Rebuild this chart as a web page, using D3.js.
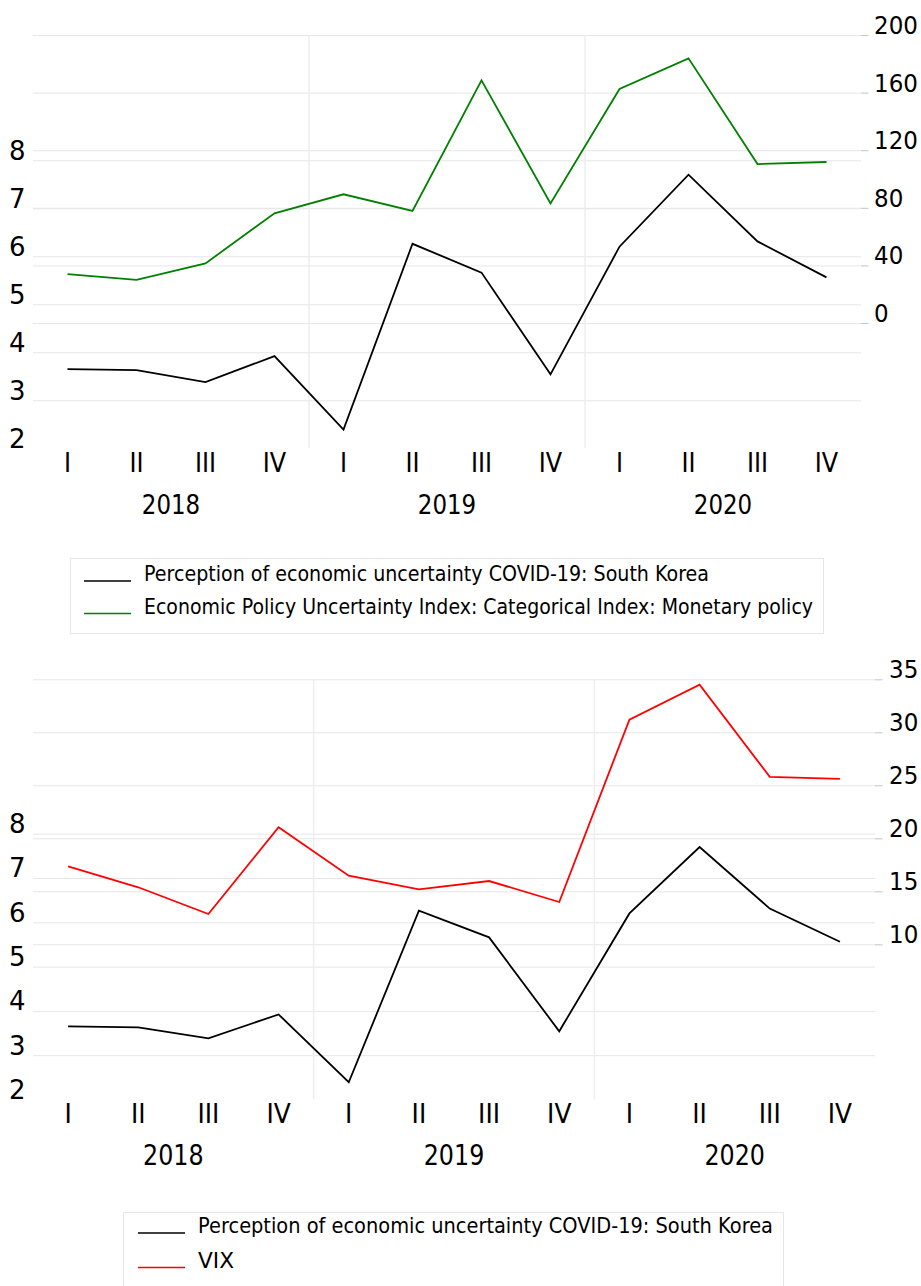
<!DOCTYPE html>
<html>
<head>
<meta charset="utf-8">
<title>Perception of economic uncertainty: South Korea</title>
<script src="https://cdn.jsdelivr.net/npm/d3@7"></script>
<style>
body { margin: 0; background: #fff; }
svg { display: block; }
text { fill: #000; font-family: "DejaVu Sans", sans-serif; }
.grid line { stroke: #e6e6e6; stroke-width: 1; }
.grid path, .axis path { display: none; }
.axis line { stroke: #c4c4c4; stroke-width: 1; }
.sep { stroke: #eeeeee; stroke-width: 1.5; }
.series { fill: none; stroke-width: 1.8; }
.legend-box { fill: #fff; stroke: #e6e6e6; stroke-width: 1; }
</style>
</head>
<body>
<script>
// data
var years = ["2018", "2019", "2020"];
var quarterNames = ["I", "II", "III", "IV"];
var perception = [3.65, 3.63, 3.38, 3.92, 2.39, 6.26, 5.66, 3.54, 6.20, 7.70, 6.31, 5.56];
var epuMonetary = [34.0, 29.9, 41.4, 76.2, 89.4, 77.8, 168.5, 83.1, 162.5, 183.8, 110.4, 111.8];
var vix = [17.36, 15.38, 12.86, 21.04, 16.47, 15.19, 15.97, 13.99, 31.2, 34.5, 25.8, 25.6];
var leftTicks = [2, 3, 4, 5, 6, 7, 8];
var epuTicks = [0, 40, 80, 120, 160, 200];
var vixTicks = [10, 15, 20, 25, 30, 35];
var perceptionLabel = "Perception of economic uncertainty COVID-19: South Korea";
var epuLabel = "Economic Policy Uncertainty Index: Categorical Index: Monetary policy";
var vixLabel = "VIX";

// one key per quarter, e.g. "2018 I"
var periods = [];
years.forEach(function(y) {
    quarterNames.forEach(function(q) { periods.push(y + " " + q); });
});

var svg = d3.select("body").append("svg")
    .attr("width", 921)
    .attr("height", 1286);

function drawPanel(p) {
    var w = p.right - p.left;
    var x = d3.scaleBand().domain(periods).range([p.left, p.right]);
    var xYear = d3.scaleBand().domain(years).range([p.left, p.right]);
    var yL = d3.scaleLinear().domain(p.leftDomain).range([p.bottom, p.top]);
    var yR = d3.scaleLinear().domain(p.rightDomain).range([p.bottom, p.top]);

    // left grid and labels
    var gl = svg.append("g")
        .attr("class", "grid")
        .attr("transform", "translate(" + p.left + ",0)")
        .call(d3.axisLeft(yL).tickValues(leftTicks).tickSize(-w).tickFormat(d3.format("d")));
    gl.selectAll(".tick line").filter(function(d) { return d === p.leftDomain[0]; }).remove();
    gl.selectAll("text")
        .attr("x", 9 - p.left)
        .attr("y", -1)
        .attr("dy", 0)
        .style("text-anchor", "start")
        .style("font-size", p.leftSize + "px");

    // right grid
    svg.append("g")
        .attr("class", "grid")
        .attr("transform", "translate(" + p.right + ",0)")
        .call(d3.axisRight(yR).tickValues(p.rightTicks).tickSize(-w).tickFormat(""));

    // right axis marks + labels
    var gr = svg.append("g")
        .attr("class", "axis")
        .attr("transform", "translate(" + p.right + ",0)")
        .call(d3.axisRight(yR).tickValues(p.rightTicks).tickSize(7.5).tickFormat(d3.format("d")));
    gr.selectAll("text")
        .attr("x", 0)
        .attr("y", 0)
        .attr("dy", 0)
        .attr("transform", "translate(" + p.rightLabelX + ",-1.5) scale(" + p.rightScale + ",1)")
        .style("font-size", p.rightSize + "px");

    // year separators
    svg.selectAll(null)
        .data(years.slice(1))
        .enter().append("line")
        .attr("class", "sep")
        .attr("x1", function(d) { return xYear(d); })
        .attr("x2", function(d) { return xYear(d); })
        .attr("y1", p.top)
        .attr("y2", p.bottom);

    // quarter axis
    var gq = svg.append("g")
        .attr("class", "axis")
        .attr("transform", "translate(0," + p.bottom + ")")
        .call(d3.axisBottom(x).tickSize(0).tickFormat(function(d) { return d.split(" ")[1]; }));
    gq.selectAll("text")
        .attr("y", 0)
        .attr("dy", 0)
        .attr("transform", "translate(0," + p.quarterY + ") scale(" + p.quarterScale + ",1)")
        .style("font-size", p.quarterSize + "px");

    // year axis
    var gy = svg.append("g")
        .attr("class", "axis")
        .attr("transform", "translate(0," + p.bottom + ")")
        .call(d3.axisBottom(xYear).tickSize(0));
    gy.selectAll("text")
        .attr("y", 0)
        .attr("dy", 0)
        .attr("transform", "translate(0," + p.yearY + ") scale(" + p.yearScale + ",1)")
        .style("font-size", p.yearSize + "px");

    // series
    var xm = function(d, i) { return x(periods[i]) + x.bandwidth() / 2; };
    svg.append("path")
        .datum(p.other)
        .attr("class", "series")
        .attr("stroke", p.otherColor)
        .attr("d", d3.line().x(xm).y(function(d) { return yR(d); }));
    svg.append("path")
        .datum(perception)
        .attr("class", "series")
        .attr("stroke", "#000")
        .attr("d", d3.line().x(xm).y(function(d) { return yL(d); }));

    // legend
    var lg = p.legend;
    svg.append("rect")
        .attr("class", "legend-box")
        .attr("x", lg.x + 0.5)
        .attr("y", lg.y + 0.5)
        .attr("width", lg.w)
        .attr("height", lg.h);
    var items = [
        {label: perceptionLabel, color: "#000", len: lg.len[0]},
        {label: p.otherLabel, color: p.otherColor, len: lg.len[1]}
    ];
    var row = svg.selectAll(null)
        .data(items)
        .enter().append("g")
        .attr("transform", function(d, i) { return "translate(0," + (lg.firstY + i * lg.step) + ")"; });
    row.append("line")
        .attr("x1", lg.lineX)
        .attr("x2", lg.lineX + 47)
        .attr("stroke", function(d) { return d.color; })
        .attr("stroke-width", 1.6);
    row.append("text")
        .attr("x", lg.textX)
        .attr("y", 0)
        .attr("textLength", function(d) { return d.len; })
        .attr("lengthAdjust", "spacingAndGlyphs")
        .style("font-size", "22px")
        .text(function(d) { return d.label; });
}

drawPanel({
    left: 33, right: 861, top: 35, bottom: 448.3,
    leftDomain: [2, 10.61], rightDomain: [-87, 200], rightTicks: epuTicks,
    leftSize: 26, rightSize: 25, rightLabelX: 13, rightScale: 0.92,
    quarterY: 23.4, quarterSize: 26, quarterScale: 0.92,
    yearY: 65.7, yearSize: 27, yearScale: 0.85,
    other: epuMonetary, otherColor: "#008000", otherLabel: epuLabel,
    legend: {x: 70, y: 558, w: 753, h: 75, lineX: 84, textX: 144, firstY: 581, step: 32.5, len: [565, 669]}
});

drawPanel({
    left: 33, right: 875, top: 679.3, bottom: 1099.5,
    leftDomain: [2, 11.485], rightDomain: [-4.64, 35], rightTicks: vixTicks,
    leftSize: 26, rightSize: 25, rightLabelX: 14, rightScale: 0.92,
    quarterY: 23.2, quarterSize: 27, quarterScale: 0.92,
    yearY: 65.5, yearSize: 28, yearScale: 0.85,
    other: vix, otherColor: "#ff0000", otherLabel: vixLabel,
    legend: {x: 123, y: 1212, w: 660, h: 80, lineX: 138, textX: 198, firstY: 1233, step: 34.5, len: [575, 36]}
});
</script>
</body>
</html>
